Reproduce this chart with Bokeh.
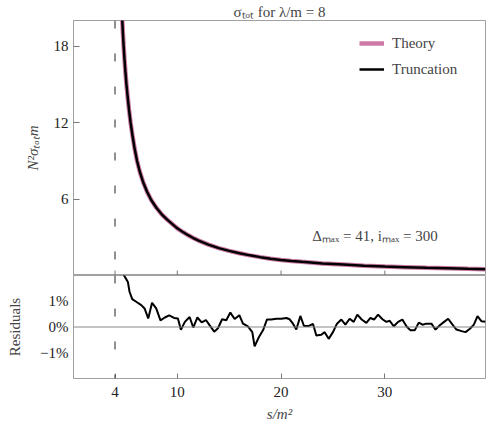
from bokeh.plotting import figure
from bokeh.layouts import column
from bokeh.models import FixedTicker, Span, Label, Legend, LegendItem, Range1d
from bokeh.embed import file_html
from bokeh.resources import INLINE

# ---- data ----
s_theory = [4.62, 4.66, 4.70, 4.76, 4.83, 4.91, 5.00, 5.10, 5.22, 5.35, 5.50, 5.68, 5.88,
            6.12, 6.40, 6.72, 7.10, 7.50, 8.00, 8.50, 9.00, 9.50, 10.0, 10.5, 11.0, 11.5,
            12, 13, 14, 15, 16, 17, 18, 19, 20, 21, 22, 24, 26, 28, 30, 32, 34, 36, 38, 39.7]
sigma_theory = [21.6, 20.8, 20.0, 19.0, 18.0, 17.0, 16.0, 15.0, 14.0, 13.0, 12.0, 11.0, 10.0,
                9.0, 8.1, 7.3, 6.55, 5.9, 5.3, 4.8, 4.4, 4.05, 3.70, 3.43, 3.18, 2.96,
                2.76, 2.42, 2.15, 1.93, 1.74, 1.58, 1.44, 1.32, 1.22, 1.14, 1.07, 0.95,
                0.86, 0.77, 0.70, 0.65, 0.60, 0.56, 0.52, 0.49]
s_trunc = list(s_theory)
sigma_trunc = [21.6, 20.8, 20.0, 19.0, 18.0, 17.0, 16.0, 15.0, 14.0, 13.0, 12.0, 11.0, 10.0,
               9.0, 8.1, 7.3, 6.55, 5.9, 5.3, 4.8, 4.4, 4.05, 3.70, 3.43, 3.18, 2.96,
               2.76, 2.42, 2.15, 1.93, 1.74, 1.58, 1.44, 1.32, 1.22, 1.14, 1.07, 0.95,
               0.86, 0.77, 0.70, 0.65, 0.60, 0.56, 0.52, 0.49]

s_res = [4.80, 5.14, 5.24, 5.40, 5.66, 6.04, 6.53, 6.85, 7.20, 7.57, 7.97, 8.38, 8.80, 9.22,
         9.69, 10.06, 10.35, 10.73, 11.19, 11.54, 11.94, 12.35, 12.76, 13.11, 13.56, 13.92,
         14.32, 14.72, 15.11, 15.53, 15.98, 16.33, 16.81, 17.23, 17.45, 17.87, 18.26, 18.64,
         19.06, 19.55, 20.03, 20.51, 20.83, 21.15, 21.47, 21.86, 22.21, 22.69, 23.08, 23.40,
         23.88, 24.20, 24.59, 25.00, 25.39, 25.81, 26.20, 26.61, 27.00, 27.35, 27.77, 28.22,
         28.61, 28.96, 29.35, 29.77, 30.15, 30.47, 30.86, 31.28, 31.69, 32.08, 32.47, 32.88,
         33.27, 33.63, 34.00, 34.49, 34.88, 35.30, 35.71, 36.10, 36.52, 36.90, 37.39, 37.78,
         38.20, 38.58, 38.93, 39.32, 39.70]
res_pct = [2.05, 1.82, 1.75, 1.37, 1.08, 0.98, 0.85, 0.72, 0.33, 0.94, 0.72, 0.26, 0.37, 0.45,
           0.35, 0.33, -0.11, 0.20, 0.39, -0.02, 0.37, 0.18, 0.27, 0.07, -0.18, -0.05,
           0.30, 0.26, 0.56, 0.31, 0.46, 0.13, 0.02, -0.20, -0.75, -0.39, -0.13, 0.29,
           0.29, 0.32, 0.32, 0.35, 0.30, 0.13, -0.10, 0.43, 0.04, 0.04, 0.12, -0.33,
           -0.30, -0.20, -0.46, -0.20, 0.13, 0.29, 0.09, 0.32, 0.20, 0.48, 0.29, 0.16,
           0.35, 0.29, 0.48, 0.30, 0.20, 0.24, 0.03, 0.20, 0.29, 0.03, -0.13, -0.13,
           0.17, 0.09, 0.13, 0.13, -0.10, 0.07, 0.20, 0.32, 0.09, -0.10, -0.16, -0.20,
           -0.07, 0.09, 0.42, 0.22, 0.20]

x_ticks = [4, 10, 20, 30]
y_ticks_top = [6, 12, 18]
y_ticks_res = [-1, 0, 1]
res_tick_labels = {1: "1%", 0: "0%", -1: "\u22121%"}
threshold = 4

x_lim = (0, 39.7)
y_lim_top = (0, 20)
y_lim_res = (-2, 2)

FONT = "Liberation Serif"
FS = "15px"
PINK = "#cc79a7"
FRAME = "#a0a0a0"
TICK = "#777777"
LEFT = 73

# ---- top panel ----
p = figure(frame_width=412, frame_height=255, x_range=Range1d(*x_lim), y_range=Range1d(*y_lim_top),
           output_backend="svg", toolbar_location=None,
           min_border_left=LEFT, min_border_right=2, min_border_top=14, min_border_bottom=0)
p.title.text = "\u03c3\u209c\u2092\u209c for \u03bb/m = 8"
p.title.align = "center"
p.title.text_font = FONT
p.title.text_font_size = FS
p.title.text_font_style = "normal"
p.title.standoff = 2
p.xgrid.visible = False
p.ygrid.visible = False
p.outline_line_color = FRAME
p.xaxis.visible = False

p.yaxis.ticker = FixedTicker(ticks=y_ticks_top)
p.yaxis.major_tick_in = 6
p.yaxis.major_tick_out = 0
p.yaxis.minor_tick_line_color = None
p.yaxis.axis_line_color = FRAME
p.yaxis.major_tick_line_color = TICK
p.yaxis.major_label_standoff = 5
p.yaxis.major_label_text_font = FONT
p.yaxis.major_label_text_font_size = FS
p.yaxis.major_label_text_color = "#222222"
p.yaxis.axis_label = "N\u00b2\u03c3\u209c\u2092\u209cm"
p.yaxis.axis_label_text_font = FONT
p.yaxis.axis_label_text_font_size = FS
p.yaxis.axis_label_text_font_style = "italic"
p.yaxis.axis_label_standoff = 10

# inward x ticks along the bottom edge of the top panel (half of each dash is clipped by the frame)
p.scatter(x_ticks, [y_lim_top[0]] * len(x_ticks), marker="dash", angle=1.5708, size=10,
          line_color=TICK, line_width=1)

p.add_layout(Span(location=threshold, dimension="height", line_color="#555555",
                  line_width=1.3, line_dash="8 25"))

r_th = p.line(s_theory, sigma_theory, line_color=PINK, line_width=4.5)
r_tr = p.line(s_trunc, sigma_trunc, line_color="black", line_width=2.5)

legend = Legend(items=[LegendItem(label="Theory", renderers=[r_th]),
                       LegendItem(label="Truncation", renderers=[r_tr])],
                location=(286, 196), padding=0, spacing=6, glyph_width=25, glyph_height=20,
                label_height=20, label_standoff=8, border_line_color=None,
                background_fill_alpha=0, label_text_font=FONT, label_text_font_size=FS)
p.add_layout(legend)

p.add_layout(Label(x=23.0, y=3.06, text="\u0394\u2098\u2090\u2093 = 41, i\u2098\u2090\u2093 = 300",
                   text_font=FONT, text_font_size=FS, text_baseline="middle"))

# ---- residual panel ----
q = figure(frame_width=412, frame_height=103, x_range=p.x_range, y_range=Range1d(*y_lim_res),
           output_backend="svg", toolbar_location=None,
           min_border_left=LEFT, min_border_right=2, min_border_top=0, min_border_bottom=0)
q.xgrid.visible = False
q.ygrid.visible = False
q.outline_line_color = FRAME

q.xaxis.ticker = FixedTicker(ticks=x_ticks)
q.xaxis.major_tick_in = 5
q.xaxis.major_tick_out = 0
q.xaxis.minor_tick_line_color = None
q.xaxis.axis_line_color = FRAME
q.xaxis.major_tick_line_color = TICK
q.xaxis.major_label_standoff = 8
q.xaxis.major_label_text_font = FONT
q.xaxis.major_label_text_font_size = FS
q.xaxis.major_label_text_color = "#222222"
q.xaxis.axis_label = "s/m\u00b2"
q.xaxis.axis_label_text_font = FONT
q.xaxis.axis_label_text_font_size = FS
q.xaxis.axis_label_text_font_style = "italic"
q.xaxis.axis_label_standoff = 6

q.yaxis.ticker = FixedTicker(ticks=y_ticks_res)
q.yaxis.major_label_overrides = res_tick_labels
q.yaxis.major_tick_in = 0
q.yaxis.major_tick_out = 0
q.yaxis.minor_tick_line_color = None
q.yaxis.axis_line_color = FRAME
q.yaxis.major_label_standoff = 5
q.yaxis.major_label_text_font = FONT
q.yaxis.major_label_text_font_size = FS
q.yaxis.major_label_text_color = "#222222"
q.yaxis.axis_label = "Residuals"
q.yaxis.axis_label_text_font = FONT
q.yaxis.axis_label_text_font_size = FS
q.yaxis.axis_label_text_font_style = "normal"
q.yaxis.axis_label_standoff = 14

q.add_layout(Span(location=0, dimension="width", line_color="#888888", line_width=1))
q.add_layout(Span(location=threshold, dimension="height", line_color="#555555",
                  line_width=1.3, line_dash="8 25"))
q.line(s_res, res_pct, line_color="black", line_width=2)

layout = column(p, q, spacing=0)
open("out.html", "w").write(file_html(layout, INLINE))
